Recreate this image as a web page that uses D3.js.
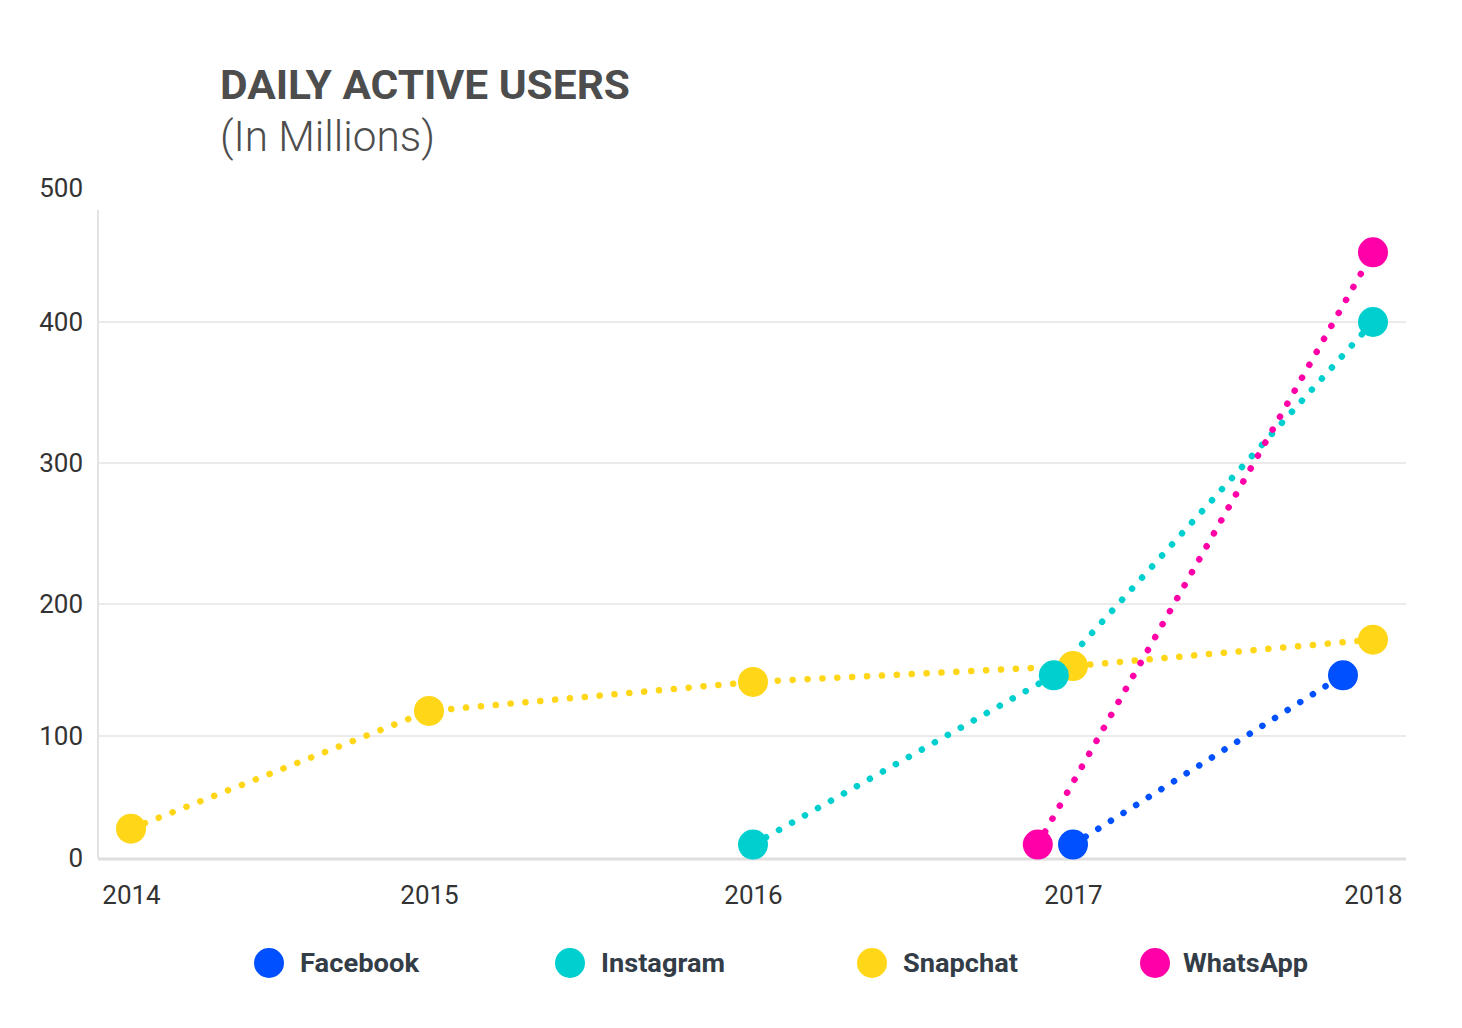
<!DOCTYPE html>
<html>
<head>
<meta charset="utf-8">
<script src="https://cdn.jsdelivr.net/npm/d3@7"></script>
<style>
  body { margin: 0; background: #fff; }
  text { font-family: Roboto, "Open Sans", sans-serif; }
</style>
</head>
<body>
<script>
// chart values
const years = [2014, 2015, 2016, 2017, 2018];
const yTicks = [0, 100, 200, 300, 400, 500];

const facebookX = [2017, 2017.9];
const facebookY = [11, 146];
const instagramX = [2016, 2016.94, 2018];
const instagramY = [11, 146, 400];
const snapchatX = [2014, 2015, 2016, 2017, 2018];
const snapchatY = [24, 119, 141, 153, 173];
const whatsappX = [2016.89, 2018];
const whatsappY = [11, 452];

const seriesNames = ['Facebook', 'Instagram', 'Snapchat', 'WhatsApp'];
const seriesColors = ['#0050ff', '#00cfcf', '#ffd618', '#ff00a8'];

const series = [
  {name: 'Snapchat', xs: snapchatX, ys: snapchatY},
  {name: 'Instagram', xs: instagramX, ys: instagramY},
  {name: 'Facebook', xs: facebookX, ys: facebookY},
  {name: 'WhatsApp', xs: whatsappX, ys: whatsappY}
].map(s => ({...s, pts: s.xs.map((x, i) => ({x, y: s.ys[i]}))}));

const color = d3.scaleOrdinal().domain(seriesNames).range(seriesColors);

const width = 1462, height = 1028;
const svg = d3.select(document.body).append('svg')
  .attr('width', width)
  .attr('height', height);

// the source image is slightly stretched, so both scales are piecewise
const x = d3.scaleLinear()
  .domain(years)
  .range([131, 429, 753, 1073, 1373]);
const y = d3.scaleLinear()
  .domain(yTicks)
  .range([858, 736, 604, 463, 322, 188]);

const left = 98, right = 1406;

// title
svg.append('text')
  .attr('x', 220).attr('y', 99)
  .attr('font-size', 40).attr('font-weight', 700)
  .attr('fill', '#4d4d4d')
  .attr('textLength', 410).attr('lengthAdjust', 'spacingAndGlyphs')
  .text('DAILY ACTIVE USERS');
svg.append('text')
  .attr('x', 220).attr('y', 151)
  .attr('font-size', 42).attr('font-weight', 300)
  .attr('fill', '#4d4d4d')
  .attr('textLength', 215).attr('lengthAdjust', 'spacingAndGlyphs')
  .text('(In Millions)');

// grid
svg.append('g')
  .selectAll('line')
  .data(yTicks.filter(t => t > 0 && t < 500))
  .join('line')
  .attr('x1', left).attr('x2', right)
  .attr('y1', d => y(d)).attr('y2', d => y(d))
  .attr('stroke', '#ebebeb').attr('stroke-width', 2);

svg.append('line')
  .attr('x1', left).attr('x2', left)
  .attr('y1', 210).attr('y2', y(0))
  .attr('stroke', '#e3e3e3').attr('stroke-width', 2);
svg.append('line')
  .attr('x1', left).attr('x2', right)
  .attr('y1', y(0) + 1).attr('y2', y(0) + 1)
  .attr('stroke', '#dedede').attr('stroke-width', 3);

// y axis labels
const yAxis = svg.append('g')
  .attr('transform', 'translate(83,0)')
  .call(d3.axisLeft(y).tickValues(yTicks).tickSize(0).tickPadding(0));
yAxis.select('.domain').remove();
yAxis.selectAll('text')
  .attr('font-size', 26).attr('fill', '#333')
  .attr('font-family', 'Roboto, sans-serif');

// x axis labels
const xAxis = svg.append('g')
  .attr('transform', 'translate(0,' + (y(0) + 28) + ')')
  .call(d3.axisBottom(x).tickValues(years).tickFormat(d3.format('d')).tickSize(0).tickPadding(0));
xAxis.select('.domain').remove();
xAxis.selectAll('text')
  .attr('font-size', 26).attr('fill', '#333')
  .attr('font-family', 'Roboto, sans-serif');

// dotted lines
const line = d3.line().x(d => x(d.x)).y(d => y(d.y));
svg.append('g')
  .selectAll('path')
  .data(series)
  .join('path')
  .attr('d', d => line(d.pts))
  .attr('fill', 'none')
  .attr('stroke', d => color(d.name))
  .attr('stroke-width', 6.5)
  .attr('stroke-linecap', 'round')
  .attr('stroke-dasharray', '0.1 14.8');

// markers
svg.append('g')
  .selectAll('g')
  .data(series)
  .join('g')
  .attr('fill', d => color(d.name))
  .selectAll('circle')
  .data(d => d.pts)
  .join('circle')
  .attr('cx', d => x(d.x))
  .attr('cy', d => y(d.y))
  .attr('r', 15);

// legend
const legendPos = [269, 570, 872, 1155];
const legendTextW = [119, 124, 115, 125];
const legend = svg.append('g')
  .selectAll('g')
  .data(seriesNames)
  .join('g')
  .attr('transform', (d, i) => `translate(${legendPos[i]},963)`);
legend.append('circle')
  .attr('r', 15)
  .attr('fill', d => color(d));
legend.append('text')
  .attr('x', (d, i) => i === 3 ? 28 : 31).attr('dy', '0.36em')
  .attr('font-size', 26).attr('font-weight', 700)
  .attr('fill', '#333d47')
  .attr('textLength', (d, i) => legendTextW[i])
  .attr('lengthAdjust', 'spacingAndGlyphs')
  .text(d => d);
</script>
</body>
</html>
